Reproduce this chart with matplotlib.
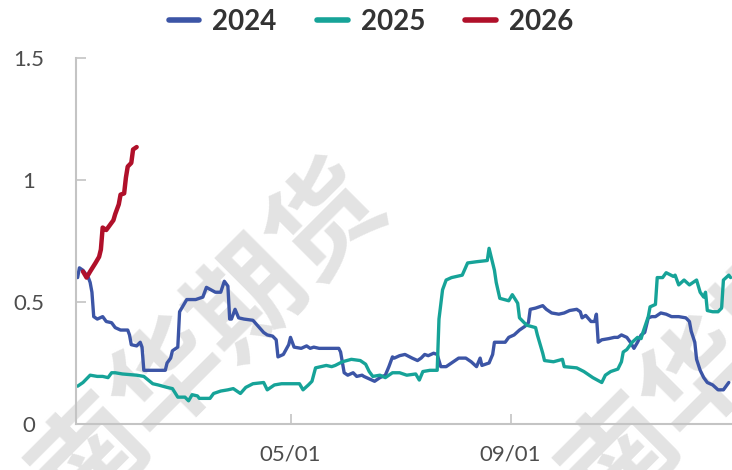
import numpy as np
import pandas as pd
import matplotlib
matplotlib.use('Agg')
import matplotlib.pyplot as plt

plt.rcParams['font.family'] = ['Lato', 'DejaVu Sans']

# day offsets from Jan 1 (common year) and values per series
days_2024 = [1, 2, 4, 7, 8, 9, 10, 12, 15, 16,
             17, 20, 22, 25, 29, 30, 31, 34, 36, 37,
             38, 50, 51, 53, 54, 57, 58, 62, 67, 71,
             73, 78, 81, 83, 85, 86, 87, 89, 91, 94,
             99, 102, 105, 107, 110, 112, 113, 116, 119, 120,
             122, 126, 129, 131, 133, 136, 147, 148, 150, 152,
             155, 157, 160, 161, 164, 167, 170, 173, 175, 177,
             178, 181, 184, 188, 191, 193, 195, 197, 200, 202,
             204, 207, 211, 214, 218, 221, 224, 226, 227, 231,
             233, 234, 237, 240, 242, 245, 248, 251, 253, 254,
             257, 261, 263, 266, 270, 273, 276, 280, 282, 283,
             285, 288, 290, 291, 292, 294, 298, 301, 303, 305,
             308, 310, 312, 314, 316, 318, 320, 322, 324, 327,
             330, 333, 337, 341, 343, 344, 346, 347, 349, 351,
             353, 356, 359, 362, 363, 365]
vals_2024 = [0.60, 0.64, 0.63, 0.60, 0.58, 0.54, 0.44, 0.43, 0.44, 0.43,
             0.42, 0.415, 0.395, 0.385, 0.385, 0.365, 0.325, 0.32, 0.335, 0.315,
             0.22, 0.22, 0.25, 0.27, 0.30, 0.315, 0.46, 0.51, 0.51, 0.52,
             0.56, 0.54, 0.54, 0.585, 0.565, 0.43, 0.43, 0.47, 0.435, 0.43,
             0.425, 0.40, 0.375, 0.365, 0.36, 0.345, 0.275, 0.285, 0.325, 0.355,
             0.315, 0.31, 0.32, 0.31, 0.315, 0.31, 0.31, 0.295, 0.21, 0.20,
             0.21, 0.195, 0.20, 0.195, 0.185, 0.175, 0.19, 0.20, 0.235, 0.275,
             0.27, 0.28, 0.285, 0.27, 0.26, 0.27, 0.285, 0.28, 0.29, 0.285,
             0.235, 0.235, 0.255, 0.27, 0.27, 0.255, 0.235, 0.27, 0.24, 0.25,
             0.285, 0.335, 0.335, 0.335, 0.355, 0.365, 0.385, 0.40, 0.415, 0.47,
             0.475, 0.485, 0.47, 0.455, 0.45, 0.455, 0.465, 0.47, 0.46, 0.435,
             0.445, 0.42, 0.42, 0.45, 0.335, 0.345, 0.35, 0.355, 0.355, 0.365,
             0.355, 0.335, 0.31, 0.335, 0.365, 0.375, 0.435, 0.44, 0.44, 0.455,
             0.45, 0.44, 0.44, 0.435, 0.42, 0.38, 0.335, 0.265, 0.22, 0.19,
             0.17, 0.16, 0.14, 0.14, 0.15, 0.17]

days_2025 = [1, 4, 8, 12, 15, 18, 20, 22, 26, 34,
             38, 43, 46, 51, 54, 57, 61, 63, 65, 68,
             69, 75, 77, 81, 85, 88, 92, 95, 99, 105,
             107, 111, 115, 125, 127, 130, 132, 134, 137, 140,
             143, 145, 149, 154, 159, 162, 164, 166, 170, 173,
             177, 181, 185, 190, 192, 194, 198, 202, 203, 205,
             207, 210, 216, 219, 224, 230, 231, 233, 234, 235,
             237, 242, 244, 247, 248, 252, 257, 258, 261, 262,
             267, 272, 273, 280, 284, 289, 294, 296, 299, 303,
             305, 306, 308, 311, 314, 316, 317, 320, 321, 324,
             325, 328, 330, 334, 335, 337, 340, 343, 347, 349,
             351, 352, 353, 356, 359, 361, 362, 365, 366]
vals_2025 = [0.155, 0.17, 0.20, 0.195, 0.195, 0.19, 0.21, 0.21, 0.205, 0.20,
             0.195, 0.165, 0.16, 0.15, 0.145, 0.11, 0.11, 0.095, 0.12, 0.115,
             0.105, 0.105, 0.125, 0.135, 0.14, 0.145, 0.125, 0.15, 0.165, 0.17,
             0.14, 0.16, 0.165, 0.165, 0.14, 0.16, 0.175, 0.23, 0.235, 0.24,
             0.235, 0.24, 0.255, 0.265, 0.26, 0.245, 0.215, 0.195, 0.20, 0.19,
             0.21, 0.21, 0.20, 0.205, 0.18, 0.215, 0.22, 0.22, 0.43, 0.55,
             0.59, 0.60, 0.61, 0.66, 0.665, 0.67, 0.72, 0.66, 0.63, 0.58,
             0.515, 0.505, 0.53, 0.495, 0.435, 0.405, 0.395, 0.365, 0.29, 0.26,
             0.255, 0.265, 0.235, 0.23, 0.215, 0.19, 0.17, 0.20, 0.215, 0.225,
             0.255, 0.295, 0.305, 0.335, 0.355, 0.35, 0.375, 0.44, 0.48, 0.49,
             0.60, 0.60, 0.62, 0.605, 0.61, 0.57, 0.59, 0.57, 0.59, 0.54,
             0.52, 0.54, 0.465, 0.46, 0.46, 0.475, 0.59, 0.61, 0.60]

days_2026 = [4, 6, 8, 11, 13, 14, 15, 17, 19, 21,
             22, 24, 25, 27, 28, 29, 31, 32, 34]
vals_2026 = [0.625, 0.60, 0.625, 0.66, 0.685, 0.715, 0.805, 0.795, 0.815, 0.835,
             0.86, 0.90, 0.94, 0.945, 1.01, 1.055, 1.07, 1.125, 1.135]

series = ['2024', '2025', '2026']
colors = ['#3c55a6', '#16a398', '#b0102a']
widths = [2.4, 2.4, 3.2]

y_ticks = [0, 0.5, 1, 1.5]
y_labels = ['0', '0.5', '1', '1.5']
x_ticks = ['2025-05-01', '2025-09-01']
x_labels = ['05/01', '09/01']

base = pd.Timestamp('2025-01-01')


def to_dates(days):
    return base + pd.to_timedelta(np.array(days), unit='D')


fig = plt.figure(figsize=(7.32, 4.70), dpi=100)
ax = fig.add_axes([0.1036, 0.0979, 0.8964, 0.7787])
ax.patch.set_alpha(0)
ax.set_zorder(1)

# watermark
for cx in [210, 740]:
    fig.text(cx / 732, 1 - 338 / 470, '南华期货', rotation=45, fontsize=80,
             family=['Noto Sans CJK SC', 'DejaVu Sans'], weight='bold',
             color='#e3e3e3', ha='center', va='center', zorder=0)

data = [(days_2024, vals_2024), (days_2025, vals_2025), (days_2026, vals_2026)]
handles = []
for (d, v), name, c, w in zip(data, series, colors, widths):
    h, = ax.plot(to_dates(d), v, color=c, lw=w, label=name,
                 solid_joinstyle='round', solid_capstyle='round')
    handles.append(h)

ax.set_ylim(0, 1.5)
ax.set_yticks(y_ticks)
ax.set_yticklabels(y_labels)
ax.set_xlim(base, base + pd.Timedelta(days=366.8))
ax.set_xticks(pd.to_datetime(x_ticks))
ax.set_xticklabels(x_labels)

for s in ['top', 'right']:
    ax.spines[s].set_visible(False)
for s in ['left', 'bottom']:
    ax.spines[s].set_color('#c4c4c4')
    ax.spines[s].set_linewidth(1.5)

ax.tick_params(direction='in', length=7, width=1.2, color='#c4c4c4',
               labelsize=16, labelcolor='#4d4d4d')
ax.tick_params(axis='y', pad=33.8)
ax.tick_params(axis='x', pad=15)
for lab in ax.get_yticklabels():
    lab.set_horizontalalignment('center')

leg = fig.legend(handles=handles, loc='center', bbox_to_anchor=(371 / 732, 1 - 22 / 470),
                 ncol=3, frameon=False, prop={'size': 20, 'weight': 'bold'},
                 handlelength=1.1, handletextpad=0.47, columnspacing=1.45)
for t in leg.get_texts():
    t.set_color('#333333')
for lh in leg.get_lines():
    lh.set_linewidth(4)

plt.savefig('out.png', dpi=100)
plt.close()
